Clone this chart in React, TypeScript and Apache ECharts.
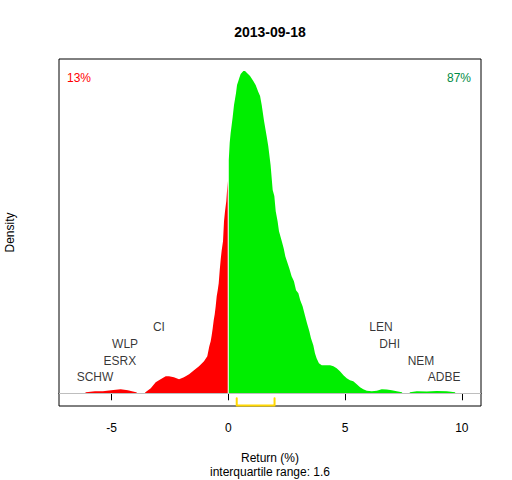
import React, { useEffect, useRef } from "react";
import * as echarts from "echarts";

const titleText = "2013-09-18";
const xTickValues = [-5, 0, 5, 10];
const xMin = -7.25;
const xMax = 10.82;
const yMin = -0.0127;
const yMax = 0.334;

// density of negative returns (return %, density)
const negativeDensity: [number, number][] = [
  [-6.14, 0], [-6.1, 0.001], [-5.71, 0.002], [-5.37, 0.002], [-5.02, 0.003],
  [-4.61, 0.004], [-4.3, 0.003], [-3.95, 0.001], [-3.88, 0], [-3.58, 0],
  [-3.55, 0.001], [-3.32, 0.005], [-3.11, 0.011], [-2.9, 0.014], [-2.68, 0.017],
  [-2.54, 0.017], [-2.33, 0.016], [-2.11, 0.014], [-1.9, 0.016], [-1.68, 0.019],
  [-1.47, 0.023], [-1.255, 0.027], [-1.04, 0.032], [-0.9, 0.037], [-0.814, 0.047],
  [-0.754, 0.052], [-0.711, 0.058], [-0.668, 0.065], [-0.625, 0.073], [-0.582, 0.079],
  [-0.54, 0.087], [-0.497, 0.097], [-0.454, 0.103], [-0.411, 0.11], [-0.368, 0.123],
  [-0.325, 0.134], [-0.283, 0.143], [-0.227, 0.152], [-0.184, 0.172], [-0.141, 0.182],
  [-0.086, 0.192], [-0.026, 0.212], [-0.025, 0],
];

// density of positive returns (return %, density)
const positiveDensity: [number, number][] = [
  [0.02, 0], [0.02, 0.233], [0.059, 0.25], [0.1, 0.26], [0.144, 0.268],
  [0.187, 0.276], [0.244, 0.288], [0.287, 0.294], [0.33, 0.3], [0.373, 0.308],
  [0.43, 0.312], [0.47, 0.315], [0.53, 0.319], [0.644, 0.322], [0.715, 0.322],
  [0.8, 0.32], [0.93, 0.317], [1.07, 0.312], [1.17, 0.308], [1.285, 0.301],
  [1.36, 0.297], [1.43, 0.288], [1.53, 0.272], [1.64, 0.257], [1.71, 0.247],
  [1.81, 0.228], [1.9, 0.203], [1.97, 0.197], [2.03, 0.182], [2.11, 0.172],
  [2.17, 0.162], [2.29, 0.152], [2.37, 0.145], [2.44, 0.137], [2.51, 0.132],
  [2.61, 0.125], [2.71, 0.117], [2.81, 0.112], [2.9, 0.103], [3.0, 0.1],
  [3.08, 0.093], [3.18, 0.087], [3.28, 0.078], [3.37, 0.07], [3.47, 0.062],
  [3.54, 0.055], [3.64, 0.048], [3.71, 0.04], [3.78, 0.035], [3.88, 0.03],
  [4.0, 0.028], [4.21, 0.028], [4.36, 0.028], [4.5, 0.027], [4.64, 0.025],
  [4.78, 0.022], [4.93, 0.018], [5.07, 0.015], [5.21, 0.013], [5.35, 0.012],
  [5.5, 0.009], [5.64, 0.006], [5.78, 0.004], [5.93, 0.0026], [6.14, 0.002],
  [6.36, 0.0026], [6.57, 0.004], [6.78, 0.0037], [7.0, 0.003], [7.21, 0.002],
  [7.43, 0.001], [7.46, 0], [7.75, 0], [7.78, 0.001], [8.07, 0.002],
  [8.5, 0.0017], [8.92, 0.0023], [9.35, 0.002], [9.71, 0.001], [9.72, 0],
];

const stockNames = ["SCHW", "ESRX", "WLP", "CI", "LEN", "DHI", "NEM", "ADBE"];
const stockReturns = [-5.71, -4.64, -4.42, -2.97, 6.54, 6.91, 8.25, 9.24];
const stockLevels = [0.016, 0.032, 0.049, 0.066, 0.066, 0.049, 0.032, 0.016];

const quartiles = [0.36, 1.98];
const bracketLevels = [-0.005, -0.0123];

const pctNegative = "13%";
const pctPositive = "87%";
const xAxisName = "Return (%)";
const yAxisName = "Density";
const iqrText = "interquartile range: 1.6";

const FONT = "'Liberation Sans', Arial, sans-serif";

function txt(text: string, x: number, y: number, extra: any = {}, rotation = 0) {
  return {
    type: "text",
    x,
    y,
    rotation,
    style: {
      text,
      fontFamily: FONT,
      fontSize: 12,
      fill: "#000000",
      align: "center",
      verticalAlign: "middle",
      ...extra,
    },
  };
}

export default function App() {
  const ref = useRef<HTMLDivElement>(null);

  useEffect(() => {
    document.body.style.margin = "0";
    if (!ref.current) return;
    const chart = echarts.init(ref.current, null, { renderer: "svg" });

    const bracket = [
      [quartiles[0], bracketLevels[0]],
      [quartiles[0], bracketLevels[1]],
      [quartiles[1], bracketLevels[1]],
      [quartiles[1], bracketLevels[0]],
    ];

    chart.setOption({
      animation: false,
      backgroundColor: "#ffffff",
      textStyle: { fontFamily: FONT },
      grid: {
        left: 59,
        right: 31,
        top: 59,
        bottom: 74,
        outerBoundsMode: "none",
        containLabel: false,
        show: true,
        borderColor: "#000000",
        borderWidth: 1,
        backgroundColor: "transparent",
      },
      graphic: [
        txt(titleText, 270, 32, { fontSize: 14, fontWeight: "bold" }),
        txt(pctNegative, 67, 78, { fill: "#ff0000", align: "left" }),
        txt(pctPositive, 471, 78, { fill: "#008b45", align: "right" }),
        txt(xAxisName, 270, 457.5),
        txt(iqrText, 270, 471.5),
        txt(yAxisName, 10, 232.5, {}, Math.PI / 2),
      ],
      xAxis: {
        type: "value",
        min: xMin,
        max: xMax,
        axisLine: { show: true, lineStyle: { color: "#000000", width: 1 } },
        axisTick: {
          show: true,
          length: 7,
          customValues: xTickValues,
          lineStyle: { color: "#000000", width: 1 },
        },
        axisLabel: {
          show: true,
          customValues: xTickValues,
          color: "#000000",
          fontSize: 12,
          fontFamily: FONT,
          margin: 16,
        },
        splitLine: { show: false },
      },
      yAxis: {
        type: "value",
        min: yMin,
        max: yMax,
        axisLine: { show: false },
        axisTick: { show: false },
        axisLabel: { show: false },
        splitLine: { show: false },
      },
      series: [
        {
          type: "line",
          data: negativeDensity,
          symbol: "none",
          lineStyle: { width: 0, color: "#ff0000" },
          areaStyle: { color: "#ff0000", opacity: 1, origin: 0 },
          z: 2,
        },
        {
          type: "line",
          data: positiveDensity,
          symbol: "none",
          lineStyle: { width: 0, color: "#00ee00" },
          areaStyle: { color: "#00ee00", opacity: 1, origin: 0 },
          z: 2,
          markLine: {
            silent: true,
            symbol: "none",
            label: { show: false },
            lineStyle: { color: "#bebebe", width: 1, type: "solid" },
            data: [{ yAxis: 0 }],
          },
        },
        {
          type: "line",
          data: bracket,
          symbol: "none",
          clip: false,
          lineStyle: { color: "#ffd700", width: 2, cap: "round", join: "round" },
          z: 5,
        },
        {
          type: "scatter",
          symbolSize: 0,
          data: stockReturns.map((r, i) => ({
            value: [r, stockLevels[i]],
            name: stockNames[i],
          })),
          label: {
            show: true,
            position: "inside",
            formatter: (p: any) => p.name,
            color: "#000000",
            fontSize: 12,
            fontFamily: FONT,
          },
          z: 4,
        },
      ],
    });

    return () => chart.dispose();
  }, []);

  return <div ref={ref} style={{ width: 512, height: 480 }} />;
}
